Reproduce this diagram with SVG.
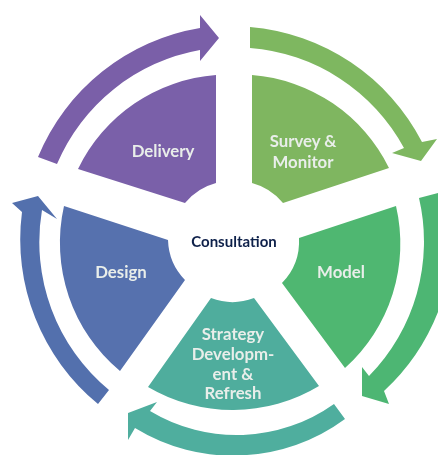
<svg xmlns="http://www.w3.org/2000/svg" width="438" height="455" viewBox="0 0 438 455">
<defs><filter id="soft" x="-5%" y="-5%" width="110%" height="110%"><feGaussianBlur stdDeviation="0.5"/></filter></defs>
<style>
.l{font-family:Lato,"Open Sans","Liberation Sans",sans-serif;font-weight:700;font-size:16.8px;fill:#e9eeea;text-anchor:middle}
.c{font-family:Lato,"Open Sans","Liberation Sans",sans-serif;font-weight:700;font-size:15px;fill:#10204a;text-anchor:middle}
</style>
<rect width="438" height="455" fill="#fff"/>
<g filter="url(#soft)">
<g id="connectors">
<path id="arrow-delivery" fill="#7a5ea8" d="M38 157A213 213 0 0 1 200 28V15L219 38L200 61V50A192 192 0 0 0 57 164Z"/>
<path id="arrow-survey" fill="#7eb761" d="M250 27A214 214 0 0 1 422 142L437 139L421 161L392 153L404 148A192 192 0 0 0 250 48Z"/>
<path id="arrow-model" fill="#4db673" d="M438 193L419 198A192 192 0 0 1 369 376L362 367V396L389 404L384 391A214 214 0 0 0 438 312Z"/>
<path id="arrow-strategy" fill="#4fae9e" d="M334 404L345 419A188 188 0 0 1 135 428L128 440V413L157 402L150 411A168 168 0 0 0 334 404Z"/>
<path id="arrow-design" fill="#5370ad" d="M98 404A213 213 0 0 1 22 212L12 203L38 196L57 219L42 210A192 192 0 0 0 109 390Z"/>
</g>
<g id="node-delivery">
<path fill="#7a60a9" d="M216 75A167 167 0 0 0 78 169L185 203A60 60 0 0 1 216 183Z"/>
<text class="l" x="163" y="157">Delivery</text>
</g>
<g id="node-survey">
<path fill="#7fb660" d="M252 75A167 167 0 0 1 389 168L283 203A60 60 0 0 0 252 183Z"/>
<text class="l" x="303" y="147">Survey &amp;</text>
<text class="l" x="303" y="168">Monitor</text>
</g>
<g id="node-model">
<path fill="#4fb771" d="M396 206A167 167 0 0 1 345 368L282 283A60 60 0 0 0 299 238Z"/>
<text class="l" x="341" y="278">Model</text>
</g>
<g id="node-strategy">
<path fill="#4fad9d" d="M211 298A60 60 0 0 0 254 298L319 386A167 167 0 0 1 148 387Z"/>
<text class="l" x="233" y="340">Strategy</text>
<text class="l" x="233" y="360">Developm-</text>
<text class="l" x="233" y="380">ent &amp;</text>
<text class="l" x="233" y="399">Refresh</text>
</g>
<g id="node-design">
<path fill="#5671ae" d="M64 206A167 167 0 0 0 120 371L185 280A60 60 0 0 1 168 240Z"/>
<text class="l" x="121" y="278">Design</text>
</g>
<g id="node-consultation">
<text class="c" x="234" y="247">Consultation</text>
</g>
</g>
</svg>
